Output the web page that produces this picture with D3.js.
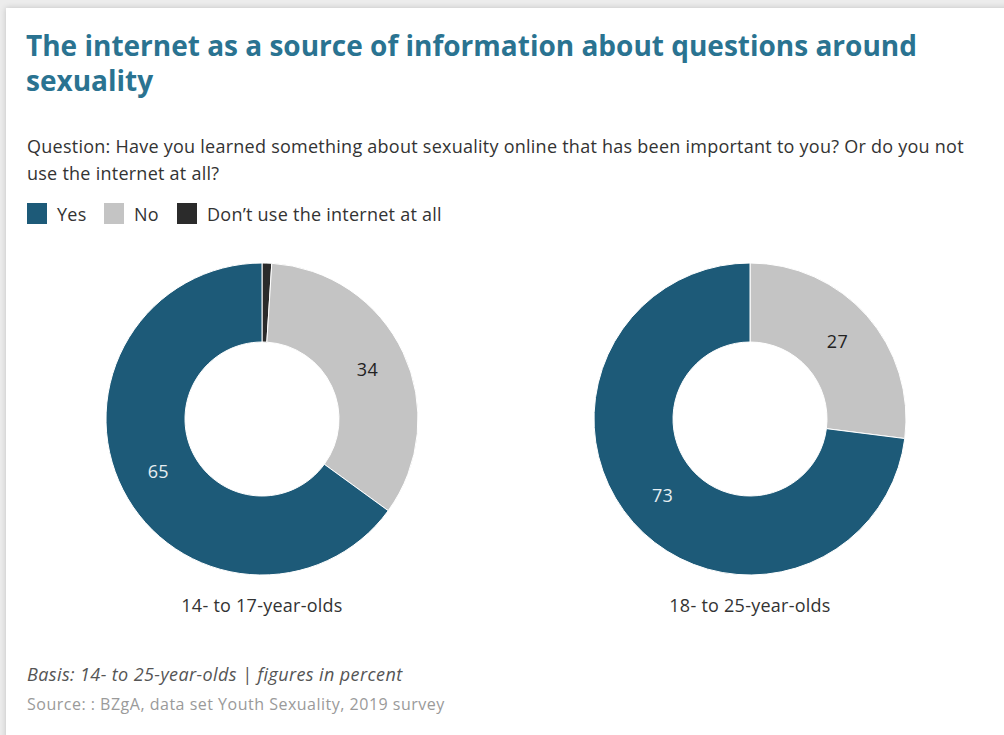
<!DOCTYPE html>
<html>
<head>
<meta charset="utf-8">
<script src="https://cdn.jsdelivr.net/npm/d3@7"></script>
<style>
  html, body { margin: 0; padding: 0; background: #ececec; }
  #card {
    position: absolute; left: 6px; top: 8px; width: 1010px; height: 740px;
    background: #fff; box-shadow: 0 0 6px rgba(0,0,0,0.18);
  }
  svg { position: absolute; left: 0; top: 0; }
  text { font-family: "Open Sans", Lato, sans-serif; }
  .body { font-size: 18px; letter-spacing: 0.25px; }
</style>
</head>
<body>
<div id="card"></div>
<div id="chart"></div>
<script>
// categories + values
const categories = ["Yes", "No", "Don't use the internet at all"];
const groups = ["14- to 17-year-olds", "18- to 25-year-olds"];
// drawn clockwise from 12 o'clock: Don't use, No, Yes
const sliceOrder = ["Don't use the internet at all", "No", "Yes"];
const values14to17 = [65, 34, 1];   // Yes, No, Don't use
const values18to25 = [73, 27, 0];
const colors = ["#1d5a78", "#c4c4c4", "#2b2b2b"];

const width = 1004, height = 735;

const svg = d3.select("#chart").append("svg")
  .attr("width", width)
  .attr("height", height);

// title
const title = svg.append("text")
  .attr("x", 26).attr("y", 56)
  .style("font-size", "28px").style("font-weight", 700)
  .attr("fill", "#2a7391");
title.append("tspan").text("The internet as a source of information about questions around");
title.append("tspan").attr("x", 26).attr("dy", 35).text("sexuality");

// question
const q = svg.append("text")
  .attr("class", "body")
  .attr("x", 27).attr("y", 153)
  .attr("fill", "#333");
q.append("tspan").text("Question: Have you learned something about sexuality online that has been important to you? Or do you not");
q.append("tspan").attr("x", 27).attr("dy", 27).text("use the internet at all?");

// legend
const color = d3.scaleOrdinal().domain(categories).range(colors);
const legendX = [27, 104, 177];
const legend = svg.append("g").attr("class", "legend");
categories.forEach((c, i) => {
  const g = legend.append("g").attr("transform", `translate(${legendX[i]},203)`);
  g.append("rect").attr("width", 20).attr("height", 21).attr("fill", color(c));
  g.append("text").attr("class", "body").attr("x", 30).attr("y", 18)
    .attr("fill", "#333")
    .text(c.replace("'", "\u2019"));
});

// donuts
const outerR = 156, innerR = 77;
const centers = d3.scalePoint().domain(groups).range([262, 750]);
const cy = 419;

const pie = d3.pie()
  .sort(null)
  .value(d => d.value);

const arc = d3.arc().innerRadius(innerR).outerRadius(outerR);

const series = [values14to17, values18to25];
groups.forEach((grp, gi) => {
  const vals = series[gi];
  const data = sliceOrder.map(c => ({ key: c, value: vals[categories.indexOf(c)] }));
  const g = svg.append("g").attr("transform", `translate(${centers(grp)},${cy})`);

  g.selectAll("path")
    .data(pie(data).filter(d => d.data.value > 0))
    .enter().append("path")
    .attr("d", arc)
    .attr("fill", d => color(d.data.key))
    .attr("stroke", "#fff")
    .attr("stroke-width", 1);

  g.selectAll("text.val")
    .data(pie(data).filter(d => d.data.value >= 5))
    .enter().append("text")
    .attr("class", "val body")
    .attr("transform", d => `translate(${arc.centroid(d)})`)
    .attr("text-anchor", "middle")
    .attr("dy", "0.35em")
    .attr("fill", d => d.data.key === "Yes" ? "#e6eef2" : "#222")
    .text(d => d.data.value);

  svg.append("text")
    .attr("class", "body")
    .attr("x", centers(grp)).attr("y", 612)
    .attr("text-anchor", "middle")
    .attr("fill", "#333")
    .text(grp);
});

// footer
svg.append("text")
  .attr("class", "body")
  .attr("x", 27).attr("y", 681)
  .style("font-style", "italic").style("letter-spacing", "0.4px")
  .attr("fill", "#555")
  .text("Basis: 14- to 25-year-olds | figures in percent");

svg.append("text")
  .attr("x", 27).attr("y", 710)
  .style("font-size", "16px").style("letter-spacing", "0.5px")
  .attr("fill", "#9a9a9a")
  .text("Source: : BZgA, data set Youth Sexuality, 2019 survey");
</script>
</body>
</html>
